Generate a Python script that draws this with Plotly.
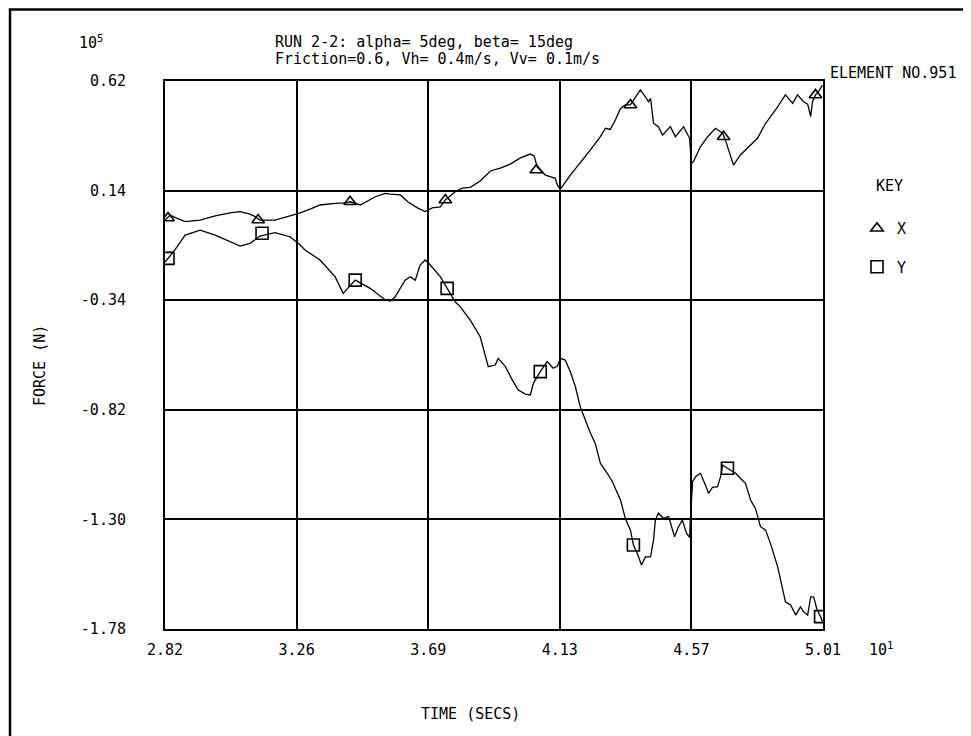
import plotly.graph_objects as go

# ---- data (time in units of 10^1 s, force in units of 10^5 N) ----
x_time = [2.820, 2.837, 2.847, 2.887, 2.937, 2.987, 3.037, 3.070, 3.103, 3.120, 3.136, 3.186,
          3.236, 3.270, 3.303, 3.336, 3.386, 3.420, 3.436, 3.470, 3.520, 3.553, 3.570, 3.603,
          3.629, 3.663, 3.686, 3.709, 3.736, 3.753, 3.786, 3.809, 3.836, 3.869, 3.903, 3.936,
          3.969, 4.003, 4.036, 4.049, 4.059, 4.086, 4.102, 4.119, 4.126, 4.136, 4.169, 4.202,
          4.236, 4.269, 4.286, 4.302, 4.319, 4.336, 4.352, 4.369, 4.402, 4.419, 4.429, 4.436,
          4.446, 4.462, 4.476, 4.502, 4.519, 4.546, 4.566, 4.572, 4.579, 4.602, 4.626, 4.652,
          4.676, 4.685, 4.702, 4.712, 4.735, 4.759, 4.792, 4.819, 4.852, 4.885, 4.909, 4.925,
          4.945, 4.959, 4.969, 4.975, 4.985, 4.995, 5.008]
x_force = [0.011, 0.033, 0.026, 0.004, 0.011, 0.029, 0.042, 0.048, 0.037, 0.026, 0.011, 0.011,
           0.029, 0.042, 0.059, 0.077, 0.084, 0.086, 0.091, 0.077, 0.113, 0.128, 0.125, 0.121,
           0.090, 0.062, 0.048, 0.064, 0.069, 0.099, 0.135, 0.151, 0.154, 0.182, 0.226, 0.238,
           0.256, 0.283, 0.300, 0.291, 0.243, 0.208, 0.201, 0.194, 0.164, 0.146, 0.208, 0.260,
           0.318, 0.376, 0.413, 0.408, 0.449, 0.500, 0.515, 0.515, 0.581, 0.551, 0.529, 0.544,
           0.435, 0.420, 0.383, 0.420, 0.376, 0.420, 0.369, 0.260, 0.267, 0.332, 0.376, 0.413,
           0.391, 0.362, 0.296, 0.252, 0.296, 0.325, 0.369, 0.435, 0.493, 0.559, 0.522, 0.559,
           0.529, 0.519, 0.464, 0.529, 0.559, 0.573, 0.602]

y_time = [2.820, 2.830, 2.853, 2.887, 2.937, 2.987, 3.037, 3.070, 3.103, 3.136, 3.186, 3.236,
          3.270, 3.286, 3.336, 3.386, 3.413, 3.436, 3.453, 3.503, 3.553, 3.570, 3.586, 3.619,
          3.636, 3.653, 3.669, 3.686, 3.703, 3.736, 3.759, 3.786, 3.803, 3.836, 3.869, 3.896,
          3.919, 3.929, 3.953, 3.976, 3.996, 4.019, 4.036, 4.046, 4.069, 4.092, 4.112, 4.126,
          4.136, 4.152, 4.169, 4.186, 4.202, 4.219, 4.236, 4.252, 4.269, 4.292, 4.309, 4.336,
          4.352, 4.369, 4.379, 4.392, 4.406, 4.419, 4.436, 4.446, 4.452, 4.462, 4.479, 4.496,
          4.509, 4.516, 4.529, 4.542, 4.556, 4.566, 4.569, 4.576, 4.586, 4.602, 4.619, 4.629,
          4.642, 4.659, 4.669, 4.676, 4.692, 4.719, 4.735, 4.752, 4.769, 4.785, 4.802, 4.819,
          4.835, 4.859, 4.869, 4.885, 4.902, 4.919, 4.935, 4.945, 4.959, 4.969, 4.979, 4.989,
          5.002, 5.008]
y_force = [-0.173, -0.157, -0.120, -0.055, -0.033, -0.055, -0.084, -0.103, -0.091, -0.059, -0.044, -0.062,
           -0.098, -0.120, -0.164, -0.237, -0.310, -0.274, -0.252, -0.288, -0.339, -0.344, -0.325, -0.252,
           -0.237, -0.252, -0.186, -0.164, -0.186, -0.237, -0.288, -0.347, -0.369, -0.427, -0.500, -0.631,
           -0.624, -0.595, -0.631, -0.690, -0.733, -0.751, -0.755, -0.704, -0.653, -0.609, -0.638, -0.628,
           -0.595, -0.602, -0.653, -0.719, -0.807, -0.865, -0.923, -0.967, -1.054, -1.098, -1.135, -1.215,
           -1.295, -1.347, -1.412, -1.449, -1.500, -1.464, -1.464, -1.390, -1.303, -1.273, -1.295, -1.288,
           -1.339, -1.376, -1.332, -1.303, -1.361, -1.379, -1.288, -1.135, -1.113, -1.098, -1.150, -1.186,
           -1.160, -1.157, -1.113, -1.062, -1.076, -1.098, -1.120, -1.142, -1.215, -1.252, -1.332, -1.347,
           -1.405, -1.507, -1.566, -1.661, -1.675, -1.719, -1.683, -1.704, -1.719, -1.639, -1.639, -1.690,
           -1.726, -1.748]

x_mark_time = [2.830, 3.130, 3.436, 3.753, 4.056, 4.369, 4.679, 4.985]
x_mark_force = [0.020, 0.011, 0.091, 0.099, 0.230, 0.515, 0.376, 0.559]
y_mark_time = [2.830, 3.143, 3.453, 3.759, 4.069, 4.379, 4.692, 5.002]
y_mark_force = [-0.157, -0.047, -0.252, -0.288, -0.653, -1.412, -1.076, -1.726]

x_ticks = [2.82, 3.258, 3.696, 4.134, 4.572, 5.01]
x_tick_labels = ["2.82", "3.26", "3.69", "4.13", "4.57", "5.01"]
y_ticks = [0.62, 0.14, -0.34, -0.82, -1.30, -1.78]
y_tick_labels = ["0.62", "0.14", "-0.34", "-0.82", "-1.30", "-1.78"]

FONT = "DejaVu Sans Mono"
FS = 15

fig = go.Figure()
fig.add_trace(go.Scatter(x=x_time, y=x_force, mode="lines", line=dict(color="black", width=1.3),
                         showlegend=False, hoverinfo="skip"))
fig.add_trace(go.Scatter(x=y_time, y=y_force, mode="lines", line=dict(color="black", width=1.3),
                         showlegend=False, hoverinfo="skip"))
fig.add_trace(go.Scatter(x=x_mark_time, y=x_mark_force, mode="markers", name="X", legendgroup="X",
                         marker=dict(symbol="triangle-up-open", size=11, color="black",
                                     line=dict(width=1.6, color="black"))))
fig.add_trace(go.Scatter(x=y_mark_time, y=y_mark_force, mode="markers", name="Y", legendgroup="Y",
                         marker=dict(symbol="square-open", size=12, color="black",
                                     line=dict(width=1.6, color="black"))))

# page body has an 8px margin: figure is sized so the plot area lands where the reference has it
OFF = 8
W, H = 963, 728
L, R, T, B = 157, 148, 73, 107
pw, ph = W - L - R, H - T - B
X0 = OFF + L          # absolute left of plot area
Y1 = OFF + T + ph     # absolute bottom of plot area


def px(xa):
    return (xa - X0) / pw


def py(ya):
    return (Y1 - ya) / ph


ann = [
    dict(text="10<sup>5</sup>", x=px(77), y=py(42), xanchor="left", yanchor="middle"),
    dict(text="RUN 2-2: alpha= 5deg, beta= 15deg", x=px(273), y=py(42), xanchor="left", yanchor="middle"),
    dict(text="Friction=0.6, Vh= 0.4m/s, Vv= 0.1m/s", x=px(273), y=py(59), xanchor="left", yanchor="middle"),
    dict(text="ELEMENT NO.951", x=px(828), y=py(73), xanchor="left", yanchor="middle"),
    dict(text="KEY", x=px(889), y=py(186), xanchor="center", yanchor="middle"),
    dict(text="10<sup>1</sup>", x=px(867), y=py(649), xanchor="left", yanchor="middle"),
    dict(text="TIME (SECS)", x=px(470), y=py(714), xanchor="center", yanchor="middle"),
    dict(text="FORCE (N)", x=px(40), y=py(365), xanchor="center", yanchor="middle", textangle=-90),
]
for a in ann:
    a.update(xref="paper", yref="paper", showarrow=False, font=dict(family=FONT, size=FS, color="black"))

fig.update_layout(
    width=W, height=H, autosize=False,
    margin=dict(l=L, r=R, t=T, b=B, pad=0),
    paper_bgcolor="white", plot_bgcolor="white",
    font=dict(family=FONT, size=FS, color="black"),
    annotations=ann,
    shapes=[dict(type="rect", xref="paper", yref="paper",
                 x0=px(10), x1=px(967), y0=py(760), y1=py(9.5),
                 line=dict(color="black", width=2.5), fillcolor="rgba(0,0,0,0)", layer="below")],
    legend=dict(x=px(857), y=py(212), xanchor="left", yanchor="top",
                bgcolor="rgba(0,0,0,0)", borderwidth=0, tracegroupgap=16,
                font=dict(family=FONT, size=FS)),
)
fig.update_xaxes(range=[2.82, 5.01], tickvals=x_ticks, ticktext=x_tick_labels,
                 showgrid=True, gridcolor="black", gridwidth=1.5, zeroline=False,
                 showline=True, mirror=True, linecolor="black", linewidth=2,
                 ticks="outside", ticklen=6, tickcolor="rgba(0,0,0,0)")
fig.update_yaxes(range=[-1.78, 0.62], tickvals=y_ticks, ticktext=y_tick_labels,
                 showgrid=True, gridcolor="black", gridwidth=1.5, zeroline=False,
                 showline=True, mirror=True, linecolor="black", linewidth=2,
                 ticks="outside", ticklen=34, tickcolor="rgba(0,0,0,0)")

fig.write_html("out.html")
